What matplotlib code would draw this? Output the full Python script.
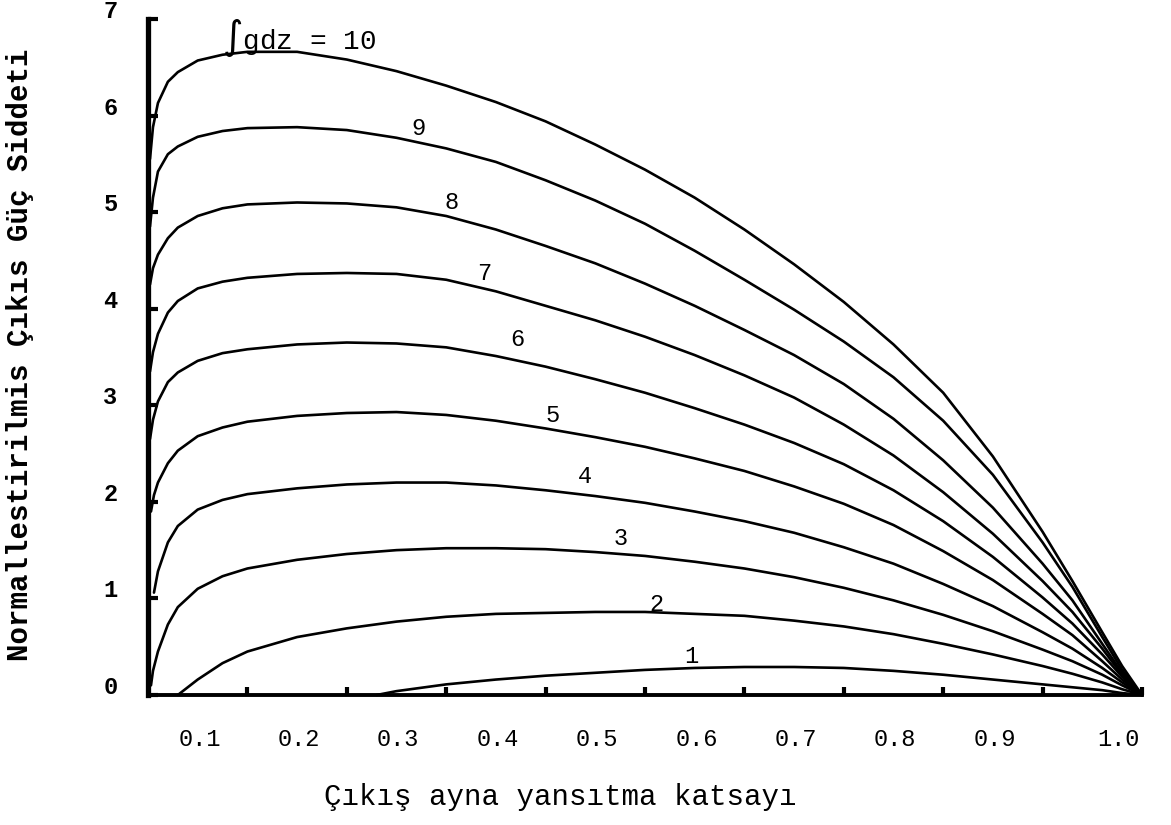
import matplotlib
matplotlib.use('Agg')
import matplotlib.pyplot as plt
import matplotlib.transforms as mtransforms

plt.rcParams['font.family'] = ['Liberation Mono', 'DejaVu Sans Mono']
plt.rcParams['mathtext.fontset'] = 'dejavusans'

# output mirror reflectivity (x) and normalised output power (y)
r_tail = [0.55, 0.6, 0.65, 0.7, 0.75, 0.8, 0.85, 0.9, 0.93, 0.96, 0.98, 1.0]
r_mid = [0.075, 0.1, 0.15, 0.2, 0.25, 0.3, 0.35, 0.4, 0.45, 0.5]

r10 = [0.002, 0.005, 0.01, 0.02, 0.03, 0.05] + r_mid + r_tail
p10 = [5.55, 5.88, 6.13, 6.35, 6.45, 6.57,
       6.63, 6.66, 6.66, 6.58, 6.46, 6.31, 6.14, 5.94, 5.70, 5.44,
       5.15, 4.82, 4.46, 4.07, 3.63, 3.13, 2.47, 1.69, 1.18, 0.65, 0.30, 0.0]

r9 = [0.002, 0.005, 0.01, 0.02, 0.03, 0.05] + r_mid + r_tail
p9 = [4.85, 5.15, 5.42, 5.60, 5.68, 5.78,
      5.84, 5.87, 5.88, 5.85, 5.77, 5.66, 5.52, 5.33, 5.12, 4.88,
      4.60, 4.30, 3.99, 3.66, 3.29, 2.84, 2.28, 1.58, 1.12, 0.60, 0.26, 0.0]

r8 = [0.002, 0.005, 0.01, 0.02, 0.03, 0.05] + r_mid + r_tail
p8 = [4.25, 4.42, 4.56, 4.73, 4.84, 4.96,
      5.04, 5.08, 5.10, 5.09, 5.05, 4.96, 4.82, 4.65, 4.47, 4.26,
      4.03, 3.78, 3.52, 3.22, 2.86, 2.43, 1.94, 1.36, 0.98, 0.53, 0.23, 0.0]

r7 = [0.002, 0.005, 0.01, 0.02, 0.03, 0.05] + r_mid + r_tail
p7 = [3.35, 3.55, 3.74, 3.96, 4.08, 4.21,
      4.28, 4.32, 4.36, 4.37, 4.36, 4.30, 4.18, 4.03, 3.88, 3.71,
      3.52, 3.31, 3.08, 2.80, 2.48, 2.10, 1.67, 1.18, 0.86, 0.48, 0.21, 0.0]

r6 = [0.002, 0.005, 0.01, 0.02, 0.03, 0.05] + r_mid + r_tail
p6 = [2.65, 2.85, 3.04, 3.24, 3.34, 3.46,
      3.54, 3.58, 3.63, 3.65, 3.64, 3.60, 3.51, 3.40, 3.27, 3.13,
      2.97, 2.80, 2.61, 2.39, 2.12, 1.80, 1.43, 1.01, 0.74, 0.42, 0.19, 0.0]

r5 = [0.003, 0.006, 0.01, 0.02, 0.03, 0.05] + r_mid + r_tail
p5 = [1.90, 2.07, 2.20, 2.40, 2.53, 2.68,
      2.77, 2.83, 2.89, 2.92, 2.93, 2.90, 2.84, 2.76, 2.67, 2.57,
      2.45, 2.32, 2.16, 1.98, 1.76, 1.49, 1.19, 0.84, 0.62, 0.35, 0.16, 0.0]

r4 = [0.006, 0.01, 0.02, 0.03, 0.05] + r_mid + r_tail
p4 = [1.06, 1.28, 1.58, 1.75, 1.92,
      2.02, 2.08, 2.14, 2.18, 2.20, 2.20, 2.17, 2.12, 2.06, 1.99,
      1.90, 1.80, 1.68, 1.53, 1.36, 1.15, 0.92, 0.65, 0.48, 0.28, 0.13, 0.0]

r3 = [0.003, 0.005, 0.01, 0.02, 0.03, 0.05] + r_mid + r_tail
p3 = [0.10, 0.25, 0.45, 0.73, 0.91, 1.10,
      1.23, 1.31, 1.40, 1.46, 1.50, 1.52, 1.52, 1.51, 1.48, 1.44,
      1.38, 1.31, 1.22, 1.11, 0.98, 0.83, 0.66, 0.47, 0.35, 0.21, 0.10, 0.0]

r2 = [0.03, 0.05] + r_mid + r_tail
p2 = [0.0, 0.16,
      0.33, 0.45, 0.60, 0.69, 0.76, 0.81, 0.84, 0.85, 0.86, 0.86,
      0.84, 0.82, 0.77, 0.71, 0.63, 0.53, 0.42, 0.30, 0.22, 0.13, 0.06, 0.0]

r1 = [0.23, 0.25, 0.3, 0.35, 0.4, 0.45, 0.5] + r_tail
p1 = [0.0, 0.04, 0.11, 0.16, 0.20, 0.23, 0.26,
      0.28, 0.29, 0.29, 0.28, 0.25, 0.21, 0.16, 0.11, 0.08, 0.05, 0.02, 0.0]

# curve number labels
label_text = ['1', '2', '3', '4', '5', '6', '7', '8', '9']
label_x = [0.547, 0.512, 0.475, 0.44, 0.407, 0.372, 0.338, 0.305, 0.272]
label_y = [0.40, 0.94, 1.62, 2.26, 2.89, 3.68, 4.36, 5.10, 5.87]
top_label = r'$\int$gdz = 10'
top_label_x = 0.074
top_label_y = 6.8

x_ticks = [0.1, 0.2, 0.3, 0.4, 0.5, 0.6, 0.7, 0.8, 0.9, 1.0]
x_ticklabels = ['0.1', '0.2', '0.3', '0.4', '0.5', '0.6', '0.7', '0.8', '0.9', '1.0']
y_ticks = [0, 1, 2, 3, 4, 5, 6, 7]
y_ticklabels = ['0', '1', '2', '3', '4', '5', '6', '7']

fig = plt.figure(figsize=(11.71, 8.25), dpi=100)
ax = fig.add_axes([148/1171, 130/825, 994/1171, 676/825])

curves = [(r1, p1), (r2, p2), (r3, p3), (r4, p4), (r5, p5),
          (r6, p6), (r7, p7), (r8, p8), (r9, p9), (r10, p10)]
for r, p in curves:
    ax.plot(r, p, color='black', lw=1.9, solid_capstyle='round',
            solid_joinstyle='round', clip_on=False)

for t, x, y in zip(label_text, label_x, label_y):
    ax.text(x, y, t, fontsize=17, ha='center', va='center')
ax.text(top_label_x, top_label_y, top_label, fontsize=20, ha='left', va='center')

ax.set_xlim(0, 1.0)
ax.set_ylim(0, 7)
ax.spines['top'].set_visible(False)
ax.spines['right'].set_visible(False)
ax.spines['left'].set_linewidth(3.8)
ax.spines['bottom'].set_linewidth(2.8)

ax.set_xticks(x_ticks, x_ticklabels)
ax.set_yticks(y_ticks, y_ticklabels)
ax.tick_params(axis='x', direction='in', length=6, width=3, pad=24, labelsize=17)
ax.tick_params(axis='y', direction='in', length=7, width=3, pad=22, labelsize=17)
for lab in ax.get_yticklabels():
    lab.set_fontweight('bold')

# typed labels sit a little left of / above their tick marks
x_shift = [-0.48] * 9 + [-0.24]
for tick, dx in zip(ax.xaxis.get_major_ticks(), x_shift):
    tick.label1.set_transform(tick.label1.get_transform() +
                              mtransforms.ScaledTranslation(dx, 0, fig.dpi_scale_trans))
for tick in ax.yaxis.get_major_ticks():
    tick.label1.set_transform(tick.label1.get_transform() +
                              mtransforms.ScaledTranslation(0, 0.10, fig.dpi_scale_trans))

ax.set_xlabel('Çıkış ayna yansıtma katsayı', fontsize=21)
ax.xaxis.set_label_coords(0.415, -0.13)
ax.set_ylabel('Normallestirilmis Çıkıs Güç Siddeti', fontsize=21, fontweight='bold')
ax.yaxis.set_label_coords(-0.115, 0.503)

fig.savefig('out.png', dpi=100, facecolor='white')
